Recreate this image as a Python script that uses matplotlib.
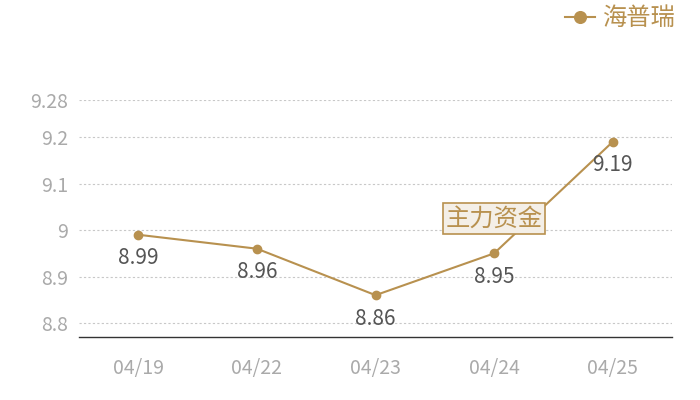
import matplotlib
matplotlib.use("Agg")
import matplotlib.pyplot as plt

plt.rcParams['font.family'] = ['Noto Sans CJK SC', 'DejaVu Sans']

# data
dates = ["04/19", "04/22", "04/23", "04/24", "04/25"]
prices = [8.99, 8.96, 8.86, 8.95, 9.19]
series_name = "海普瑞"
y_ticks = [8.8, 8.9, 9.0, 9.1, 9.2, 9.28]
y_tick_labels = ["8.8", "8.9", "9", "9.1", "9.2", "9.28"]
tag_text = "主力资金"
tag_index = 3
tag_value = 9.025

gold = "#b8914f"
tick_gray = "#aaaaaa"

fig = plt.figure(figsize=(7, 4), dpi=100)
ax = fig.add_axes([0.113, 0.1575, 0.847, 0.5925])

x = list(range(len(dates)))
ax.plot(x, prices, color=gold, linewidth=1.5, marker="o", markersize=6,
        label=series_name, zorder=3)

for xi, v in zip(x, prices):
    ax.annotate(f"{v:.2f}", (xi, v), xytext=(0, -17), textcoords="offset points",
                ha="center", va="center", fontsize=15, color="#555555", zorder=4)

# tag box
ax.text(tag_index, tag_value, tag_text, ha="center", va="center", fontsize=17.5,
        color=gold, zorder=5,
        bbox=dict(boxstyle="square,pad=0.1", facecolor="#f4efe7",
                  edgecolor=gold, linewidth=1.2))

ax.set_xlim(-0.5, len(dates) - 0.5)
ax.set_ylim(8.77, 9.28)
ax.set_xticks(x)
ax.set_xticklabels(dates)
ax.set_yticks(y_ticks)
ax.set_yticklabels(y_tick_labels)
ax.tick_params(axis="both", length=0, labelsize=14, labelcolor=tick_gray)
ax.tick_params(axis="x", pad=15)
ax.tick_params(axis="y", pad=8)

ax.grid(axis="y", linestyle=(0, (2, 2)), color="#c8c8c8", linewidth=0.8)
ax.set_axisbelow(True)
for side in ["top", "right", "left"]:
    ax.spines[side].set_visible(False)
ax.spines["bottom"].set_color("#333333")
ax.spines["bottom"].set_linewidth(1)

leg = fig.legend(loc="upper right", bbox_to_anchor=(0.995, 1.042), frameon=False,
                 fontsize=17.5, handlelength=1.2, handletextpad=0.3,
                 markerscale=1.4)
for t in leg.get_texts():
    t.set_color(gold)

fig.savefig("out.png", dpi=100)
